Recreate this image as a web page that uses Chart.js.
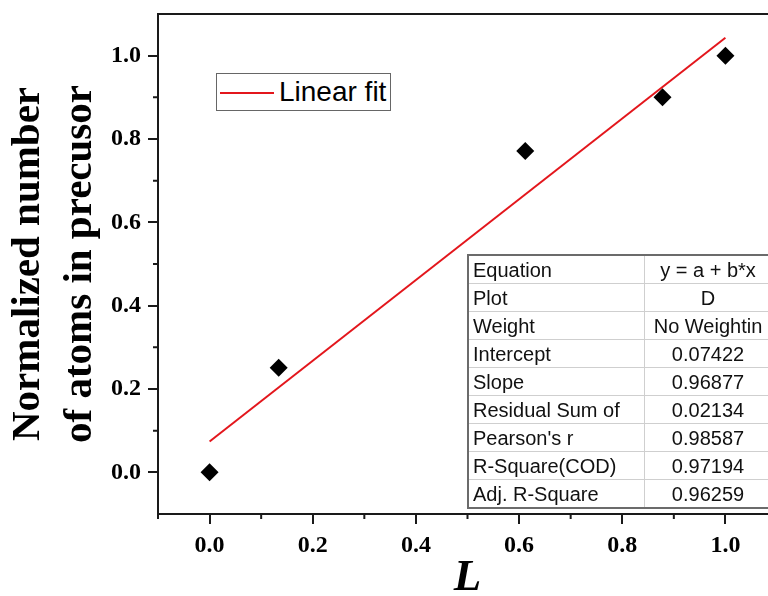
<!DOCTYPE html>
<html>
<head>
<meta charset="utf-8">
<script src="https://cdn.jsdelivr.net/npm/chart.js@4/dist/chart.umd.min.js"></script>
<style>
    html, body { margin: 0; padding: 0; background: #fff; overflow: hidden; }
    #wrap { position: relative; width: 800px; height: 596px; }
    #legendBox {
        position: absolute; left: 216px; top: 73px; width: 173px; height: 36px;
        border: 1px solid #666; background: #fff;
        font-family: "Liberation Sans", Arial, sans-serif; font-size: 28px; color: #000;
    }
    #legendBox .swatch { position: absolute; left: 3px; top: 18px; width: 54px; height: 2px; background: #e3161c; }
    #legendBox .label { position: absolute; left: 62px; top: 1px; line-height: 34px; }
    #fitTable {
        position: absolute; left: 467px; top: 254px;
        border-collapse: collapse; border: 2px solid #6b6b6b;
        font-family: "Liberation Sans", Arial, sans-serif; font-size: 20px; color: #111;
    }
    #fitTable td { border: 1px solid #cfcfcf; height: 27px; padding: 0 0 0 4px; line-height: 26px; white-space: nowrap; overflow: hidden; }
    #fitTable td.c1 { width: 171px; }
    #fitTable td.c2 { width: 126px; text-align: center; padding: 0; }
</style>
</head>
<body>
<div id="wrap">
    <canvas id="canvas" width="800" height="596"></canvas>
    <div id="legendBox"><span class="swatch"></span><span class="label">Linear fit</span></div>
    <table id="fitTable"></table>
</div>
<script>
// 測定点
const xVals = [0.0, 0.134, 0.612, 0.878, 1.0];
const yVals = [0.0, 0.251, 0.771, 0.900, 1.0];

// フィット直線の両端
const fitX = [0.0, 1.0];
const fitY = [0.0742, 1.0430];

// 目盛り
const xTicks = [0.0, 0.2, 0.4, 0.6, 0.8, 1.0];
const xMinor = [-0.1, 0.1, 0.3, 0.5, 0.7, 0.9, 1.1];
const yTicks = [0.0, 0.2, 0.4, 0.6, 0.8, 1.0];
const yMinor = [0.1, 0.3, 0.5, 0.7, 0.9];

// フィット結果の表
const tableLabels = ["Equation", "Plot", "Weight", "Intercept", "Slope", "Residual Sum of", "Pearson's r", "R-Square(COD)", "Adj. R-Square"];
const tableValues = ["y = a + b*x", "D", "No Weightin", "0.07422", "0.96877", "0.02134", "0.98587", "0.97194", "0.96259"];

// 表を作る
let table = document.getElementById("fitTable");
for (let i = 0; i < tableLabels.length; i++) {
    let tr = document.createElement("tr");
    let td1 = document.createElement("td");
    td1.className = "c1";
    td1.textContent = tableLabels[i];
    let td2 = document.createElement("td");
    td2.className = "c2";
    td2.textContent = tableValues[i];
    tr.appendChild(td1);
    tr.appendChild(td2);
    table.appendChild(tr);
}

const axisColor = "#1a1a1a";
const serif = "'Liberation Serif', 'Times New Roman', serif";

// 枠と副目盛りを描くプラグイン
const framePlugin = {
    id: "frame",
    afterDraw(chart) {
        const ctx = chart.ctx;
        const area = chart.chartArea;
        const xs = chart.scales.x;
        const ys = chart.scales.y;
        ctx.save();
        ctx.strokeStyle = axisColor;
        ctx.lineWidth = 2;
        ctx.strokeRect(area.left, area.top, area.right - area.left, area.bottom - area.top);
        ctx.beginPath();
        xMinor.forEach(v => {
            let px = xs.getPixelForValue(v);
            ctx.moveTo(px, area.bottom);
            ctx.lineTo(px, area.bottom + 5);
        });
        yMinor.forEach(v => {
            let py = ys.getPixelForValue(v);
            ctx.moveTo(area.left, py);
            ctx.lineTo(area.left - 5, py);
        });
        ctx.stroke();
        ctx.restore();
    }
};

const ctx = document.getElementById("canvas").getContext("2d");
new Chart(ctx, {
    type: "scatter",
    data: {
        datasets: [
            {
                label: "Linear fit",
                type: "line",
                data: fitX.map((x, i) => ({x: x, y: fitY[i]})),
                borderColor: "#e3161c",
                borderWidth: 2,
                pointRadius: 0,
                fill: false,
                order: 2
            },
            {
                label: "data",
                data: xVals.map((x, i) => ({x: x, y: yVals[i]})),
                pointStyle: "rectRot",
                pointRadius: 9,
                backgroundColor: "#000",
                borderWidth: 0,
                order: 1
            }
        ]
    },
    options: {
        responsive: false,
        animation: false,
        devicePixelRatio: 1,
        layout: { padding: { top: 14, right: 23, left: 0, bottom: 0 } },
        plugins: { legend: { display: false }, tooltip: { enabled: false } },
        scales: {
            x: {
                type: "linear",
                min: -0.1,
                max: 1.1,
                afterBuildTicks: (axis) => { axis.ticks = xTicks.map(v => ({value: v})); },
                afterFit: (axis) => { axis.height = 82; axis.paddingLeft = 0; axis.paddingRight = 0; },
                ticks: {
                    font: { family: serif, size: 24, weight: "bold" },
                    color: "#000",
                    padding: 7,
                    maxRotation: 0,
                    callback: (v) => v.toFixed(1)
                },
                grid: { drawOnChartArea: false, tickLength: 10, color: axisColor, lineWidth: 2 },
                border: { display: true, color: axisColor, width: 2 },
                title: {
                    display: true,
                    text: "L",
                    color: "#000",
                    font: { family: serif, size: 45, weight: "bold", style: "italic", lineHeight: 0.8 },
                    padding: 0
                }
            },
            y: {
                type: "linear",
                min: -0.1,
                max: 1.1,
                afterBuildTicks: (axis) => { axis.ticks = yTicks.map(v => ({value: v})); },
                afterFit: (axis) => { axis.width = 158; axis.paddingTop = 0; axis.paddingBottom = 0; },
                ticks: {
                    font: { family: serif, size: 24, weight: "bold" },
                    color: "#000",
                    padding: 7,
                    callback: (v) => v.toFixed(1)
                },
                grid: { drawOnChartArea: false, tickLength: 10, color: axisColor, lineWidth: 2 },
                border: { display: true, color: axisColor, width: 2 },
                title: {
                    display: true,
                    text: ["Normalized number", "of atoms in precusor"],
                    color: "#000",
                    font: { family: serif, size: 41, weight: "bold", lineHeight: 1.27 },
                    padding: { top: 2, bottom: 0 }
                }
            }
        }
    },
    plugins: [framePlugin]
});
</script>
</body>
</html>
